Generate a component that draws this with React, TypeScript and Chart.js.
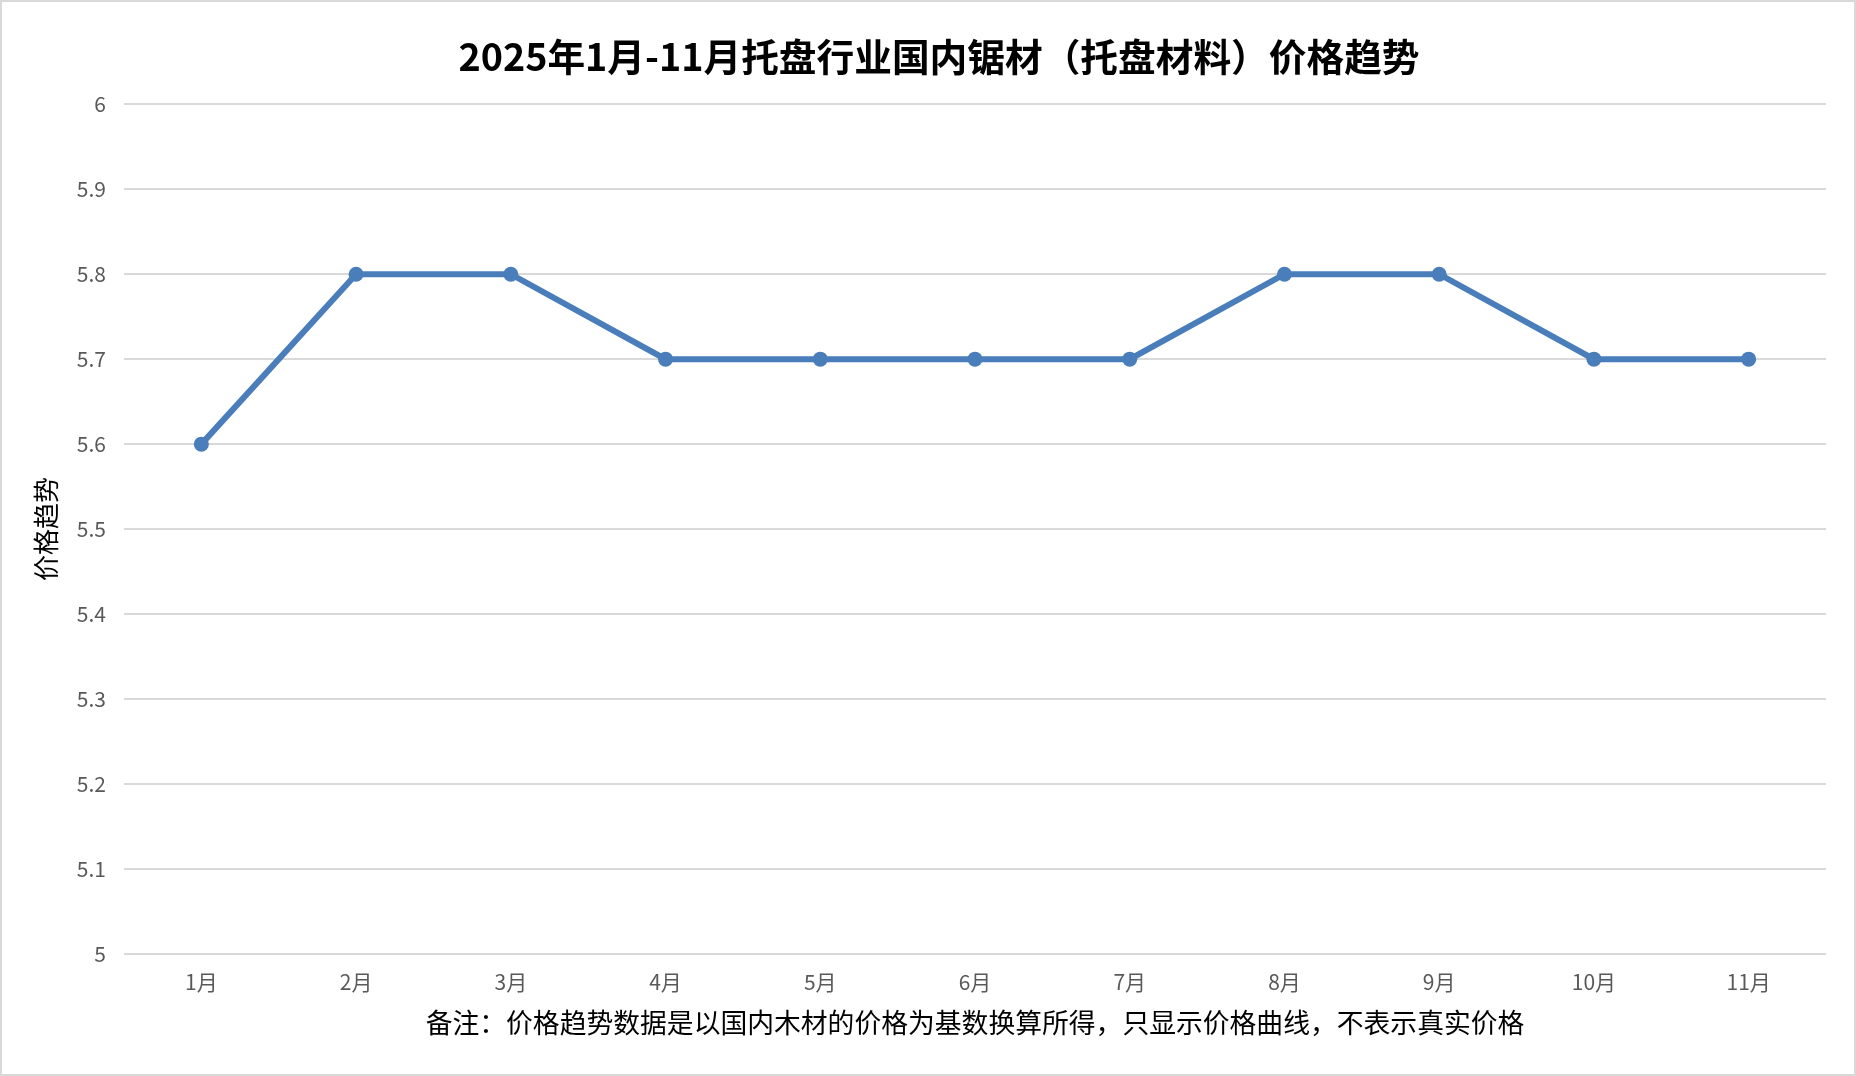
import { useEffect, useRef } from "react";
import Chart from "chart.js/auto";

const months = ["1月", "2月", "3月", "4月", "5月", "6月", "7月", "8月", "9月", "10月", "11月"];
const prices = [5.6, 5.8, 5.8, 5.7, 5.7, 5.7, 5.7, 5.8, 5.8, 5.7, 5.7];
const yMin = 5;
const yMax = 6;
const yStep = 0.1;

const chartTitle = "2025年1月-11月托盘行业国内锯材（托盘材料）价格趋势";
const yTitle = "价格趋势";
const note = "备注：价格趋势数据是以国内木材的价格为基数换算所得，只显示价格曲线，不表示真实价格";

const FONT = "'Noto Sans CJK SC', 'Noto Sans', sans-serif";
const BLUE = "#4A7EBB";

export default function App() {
  const chartRef = useRef<HTMLCanvasElement>(null);
  const chartInstance = useRef<Chart | null>(null);

  useEffect(() => {
    if (!chartRef.current) return;
    if (chartInstance.current) chartInstance.current.destroy();

    chartInstance.current = new Chart(chartRef.current, {
      type: "line",
      data: {
        labels: months,
        datasets: [
          {
            label: yTitle,
            data: prices,
            borderColor: BLUE,
            backgroundColor: BLUE,
            borderWidth: 6,
            pointRadius: 7.5,
            pointBorderWidth: 0,
            pointBackgroundColor: BLUE,
            tension: 0,
          },
        ],
      },
      options: {
        responsive: false,
        animation: false,
        // left padding is wider so the title sits a little right of centre, as in the original
        layout: { padding: { left: 50, right: 28, top: 0, bottom: 0 } },
        plugins: {
          legend: { display: false },
          tooltip: { enabled: false },
          title: {
            display: true,
            text: chartTitle,
            color: "#000",
            font: { family: FONT, size: 37.7, weight: "bold", lineHeight: 1.2 },
            padding: { top: 32, bottom: 25 },
          },
        },
        scales: {
          x: {
            offset: true,
            grid: { display: false, drawTicks: false },
            border: { display: false },
            ticks: {
              color: "#595959",
              font: { family: FONT, size: 21, lineHeight: 1.2 },
              padding: 15,
              maxRotation: 0,
            },
            title: {
              display: true,
              text: note,
              color: "#000",
              font: { family: FONT, size: 26.8, lineHeight: 1.2 },
              padding: { top: 0, bottom: 35 },
            },
            afterFit: (scale: any) => {
              scale.height = 120;
            },
          },
          y: {
            min: yMin,
            max: yMax,
            grid: { color: "#d9d9d9", lineWidth: 2, drawTicks: false },
            border: { display: false },
            ticks: {
              stepSize: yStep,
              color: "#595959",
              font: { family: FONT, size: 21, lineHeight: 1.2 },
              padding: 18,
              callback: (v: any) => String(Math.round(Number(v) * 10) / 10),
            },
            title: {
              display: true,
              text: yTitle,
              color: "#000",
              font: { family: FONT, size: 26, lineHeight: 1.2 },
              padding: { top: -21, bottom: 4 },
            },
            afterFit: (scale: any) => {
              scale.width = 72;
            },
          },
        },
      },
    });

    return () => {
      if (chartInstance.current) chartInstance.current.destroy();
      chartInstance.current = null;
    };
  }, []);

  return (
    <div
      style={{
        position: "fixed",
        left: 0,
        top: 0,
        width: 1856,
        height: 1076,
        boxSizing: "border-box",
        border: "2px solid #d9d9d9",
        background: "#fff",
      }}
    >
      <canvas ref={chartRef} width={1852} height={1072} style={{ display: "block" }} />
    </div>
  );
}
